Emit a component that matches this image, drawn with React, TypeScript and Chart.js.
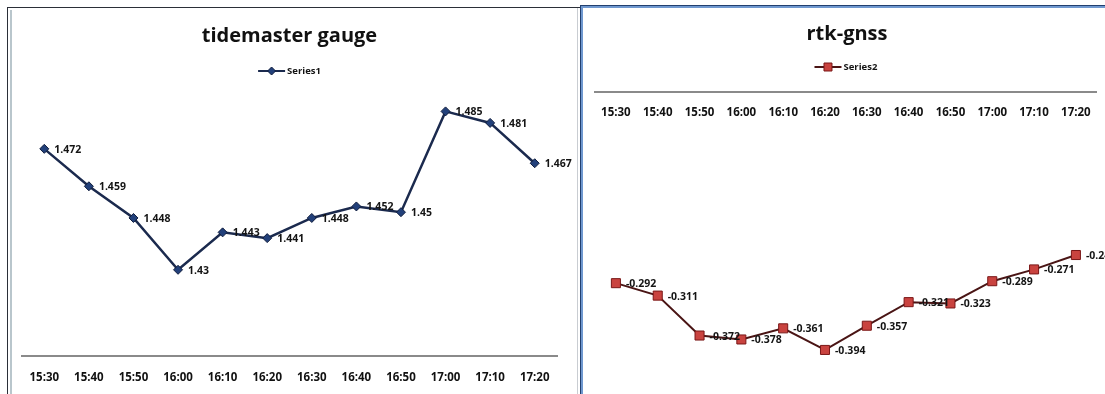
import React, { useEffect, useRef } from "react";
import { Chart, registerables } from "chart.js";

Chart.register(...registerables);

// ---------- data ----------
const timeLabels = ["15:30", "15:40", "15:50", "16:00", "16:10", "16:20", "16:30", "16:40", "16:50", "17:00", "17:10", "17:20"];
const tideValues = [1.472, 1.459, 1.448, 1.43, 1.443, 1.441, 1.448, 1.452, 1.45, 1.485, 1.481, 1.467];
const gnssValues = [-0.292, -0.311, -0.372, -0.378, -0.361, -0.394, -0.357, -0.321, -0.323, -0.289, -0.271, -0.249];
const tideTitle = "tidemaster gauge";
const gnssTitle = "rtk-gnss";
const tideSeriesName = "Series1";
const gnssSeriesName = "Series2";
const tideAxisRange = [1.4, 1.49];
const gnssAxisRange = [-0.45, 0];

const FONT = "'Open Sans', 'DejaVu Sans', sans-serif";

const valueLabelPlugin = {
  id: "valueLabels",
  afterDatasetsDraw(chart: any) {
    const { ctx } = chart;
    ctx.save();
    ctx.font = `bold 10.5px ${FONT}`;
    ctx.fillStyle = "#141414";
    ctx.textBaseline = "middle";
    ctx.textAlign = "left";
    chart.data.datasets.forEach((ds: any, i: number) => {
      chart.getDatasetMeta(i).data.forEach((pt: any, j: number) => {
        ctx.fillText(String(ds.data[j]), pt.x + 10, pt.y + 1);
      });
    });
    ctx.restore();
  },
};

const lineLegendPlugin = {
  id: "lineLegend",
  afterDraw(chart: any, _args: any, opts: any) {
    const { ctx, chartArea } = chart;
    const ds = chart.data.datasets[0];
    ctx.save();
    ctx.font = `bold 9.5px ${FONT}`;
    const text = ds.label;
    const tw = ctx.measureText(text).width;
    const lineLen = 27;
    const gap = 2;
    const total = lineLen + gap + tw;
    const cx = (chartArea.left + chartArea.right) / 2 + (opts.dx || 0);
    const x0 = cx - total / 2;
    const y = opts.y;
    ctx.strokeStyle = ds.borderColor;
    ctx.lineWidth = 2;
    ctx.beginPath();
    ctx.moveTo(x0, y);
    ctx.lineTo(x0 + lineLen, y);
    ctx.stroke();
    const mx = x0 + lineLen / 2;
    ctx.fillStyle = ds.pointBackgroundColor;
    ctx.strokeStyle = ds.pointBorderColor;
    ctx.lineWidth = 1;
    ctx.beginPath();
    if (ds.pointStyle === "rectRot") {
      const r = 4;
      ctx.moveTo(mx, y - r);
      ctx.lineTo(mx + r, y);
      ctx.lineTo(mx, y + r);
      ctx.lineTo(mx - r, y);
      ctx.closePath();
    } else {
      const s = 4;
      ctx.rect(mx - s, y - s, 2 * s, 2 * s);
    }
    ctx.fill();
    ctx.stroke();
    ctx.fillStyle = "#141414";
    ctx.textBaseline = "middle";
    ctx.textAlign = "left";
    ctx.fillText(text, x0 + lineLen + gap, y + 0.5);
    ctx.restore();
  },
};

const tickFont = { family: FONT, size: 11.5, weight: "bold" as const };
const titleFont = { family: FONT, size: 20, weight: "bold" as const };

function tideConfig(): any {
  return {
    type: "line",
    data: {
      labels: timeLabels,
      datasets: [
        {
          label: tideSeriesName,
          data: tideValues,
          borderColor: "#1b2a4e",
          borderWidth: 2.5,
          pointStyle: "rectRot",
          pointRadius: 4.5,
          pointBackgroundColor: "#22407a",
          pointBorderColor: "#0f1c3c",
          pointBorderWidth: 1,
          tension: 0,
        },
      ],
    },
    options: {
      animation: false,
      responsive: false,
      layout: { padding: { left: 22, right: 21, top: 0, bottom: 0 } },
      plugins: {
        legend: { display: false },
        tooltip: { enabled: false },
        title: {
          display: true,
          text: tideTitle,
          font: titleFont,
          color: "#111",
          padding: { top: 24, bottom: 49 },
        },
        lineLegend: { y: 71 },
      },
      scales: {
        x: {
          type: "category",
          position: "bottom",
          offset: true,
          grid: { display: false, drawTicks: false },
          border: { display: true, color: "#8a8a8a", width: 2 },
          ticks: { font: tickFont, color: "#111", padding: 15, maxRotation: 0, autoSkip: false },
        },
        y: { display: false, min: tideAxisRange[0], max: tideAxisRange[1] },
      },
    },
    plugins: [valueLabelPlugin, lineLegendPlugin],
  };
}

function gnssConfig(): any {
  return {
    type: "line",
    data: {
      labels: timeLabels,
      datasets: [
        {
          label: gnssSeriesName,
          data: gnssValues,
          borderColor: "#4a1515",
          borderWidth: 2,
          pointStyle: "rect",
          pointRadius: 6.4,
          pointBackgroundColor: "#c9433f",
          pointBorderColor: "#7a1717",
          pointBorderWidth: 1,
          tension: 0,
        },
      ],
    },
    options: {
      animation: false,
      responsive: false,
      layout: { padding: { left: 12, right: 6, top: 0, bottom: 3 } },
      plugins: {
        legend: { display: false },
        tooltip: { enabled: false },
        title: {
          display: true,
          text: gnssTitle,
          font: titleFont,
          color: "#111",
          padding: { top: 22, bottom: 46 },
        },
        lineLegend: { y: 67 },
      },
      scales: {
        x: {
          type: "category",
          position: { y: 0 },
          offset: true,
          grid: { display: false, drawTicks: false },
          border: { display: true, color: "#8a8a8a", width: 2 },
          ticks: { font: tickFont, color: "#111", padding: 14, maxRotation: 0, autoSkip: false },
        },
        y: { display: false, min: gnssAxisRange[0], max: gnssAxisRange[1] },
      },
    },
    plugins: [valueLabelPlugin, lineLegendPlugin],
  };
}

function ChartCanvas({ make, left, top, width, height }: { make: () => any; left: number; top: number; width: number; height: number }) {
  const ref = useRef<HTMLCanvasElement>(null);
  useEffect(() => {
    const chart = new Chart(ref.current as HTMLCanvasElement, make());
    return () => chart.destroy();
  }, []);
  return (
    <canvas
      ref={ref}
      width={width}
      height={height}
      style={{ position: "absolute", left, top, width, height, display: "block" }}
    />
  );
}

export default function App() {
  return (
    <div style={{ position: "fixed", left: 0, top: 0, width: 1105, height: 394, background: "#fff", overflow: "hidden" }}>
      {/* left panel frame */}
      <div style={{ position: "absolute", left: 7, top: 7, width: 574, height: 400, borderTop: "1px solid #2b2f38", borderLeft: "1px solid #2b2f38" }} />
      <div style={{ position: "absolute", left: 10, top: 10, width: 2, height: 390, background: "#b9c6cc" }} />
      <div style={{ position: "absolute", left: 577, top: 8, width: 1, height: 390, background: "#c9cdd2" }} />
      {/* right panel frame */}
      <div
        style={{
          position: "absolute",
          left: 580,
          top: 5,
          width: 540,
          height: 400,
          borderTop: "1px solid #22406f",
          borderLeft: "1px solid #22406f",
          boxShadow: "inset 2px 2px 0 #6f98cf",
        }}
      />
      <ChartCanvas make={tideConfig} left={0} top={0} width={578} height={400} />
      <ChartCanvas make={gnssConfig} left={583} top={0} width={522} height={394} />
    </div>
  );
}
